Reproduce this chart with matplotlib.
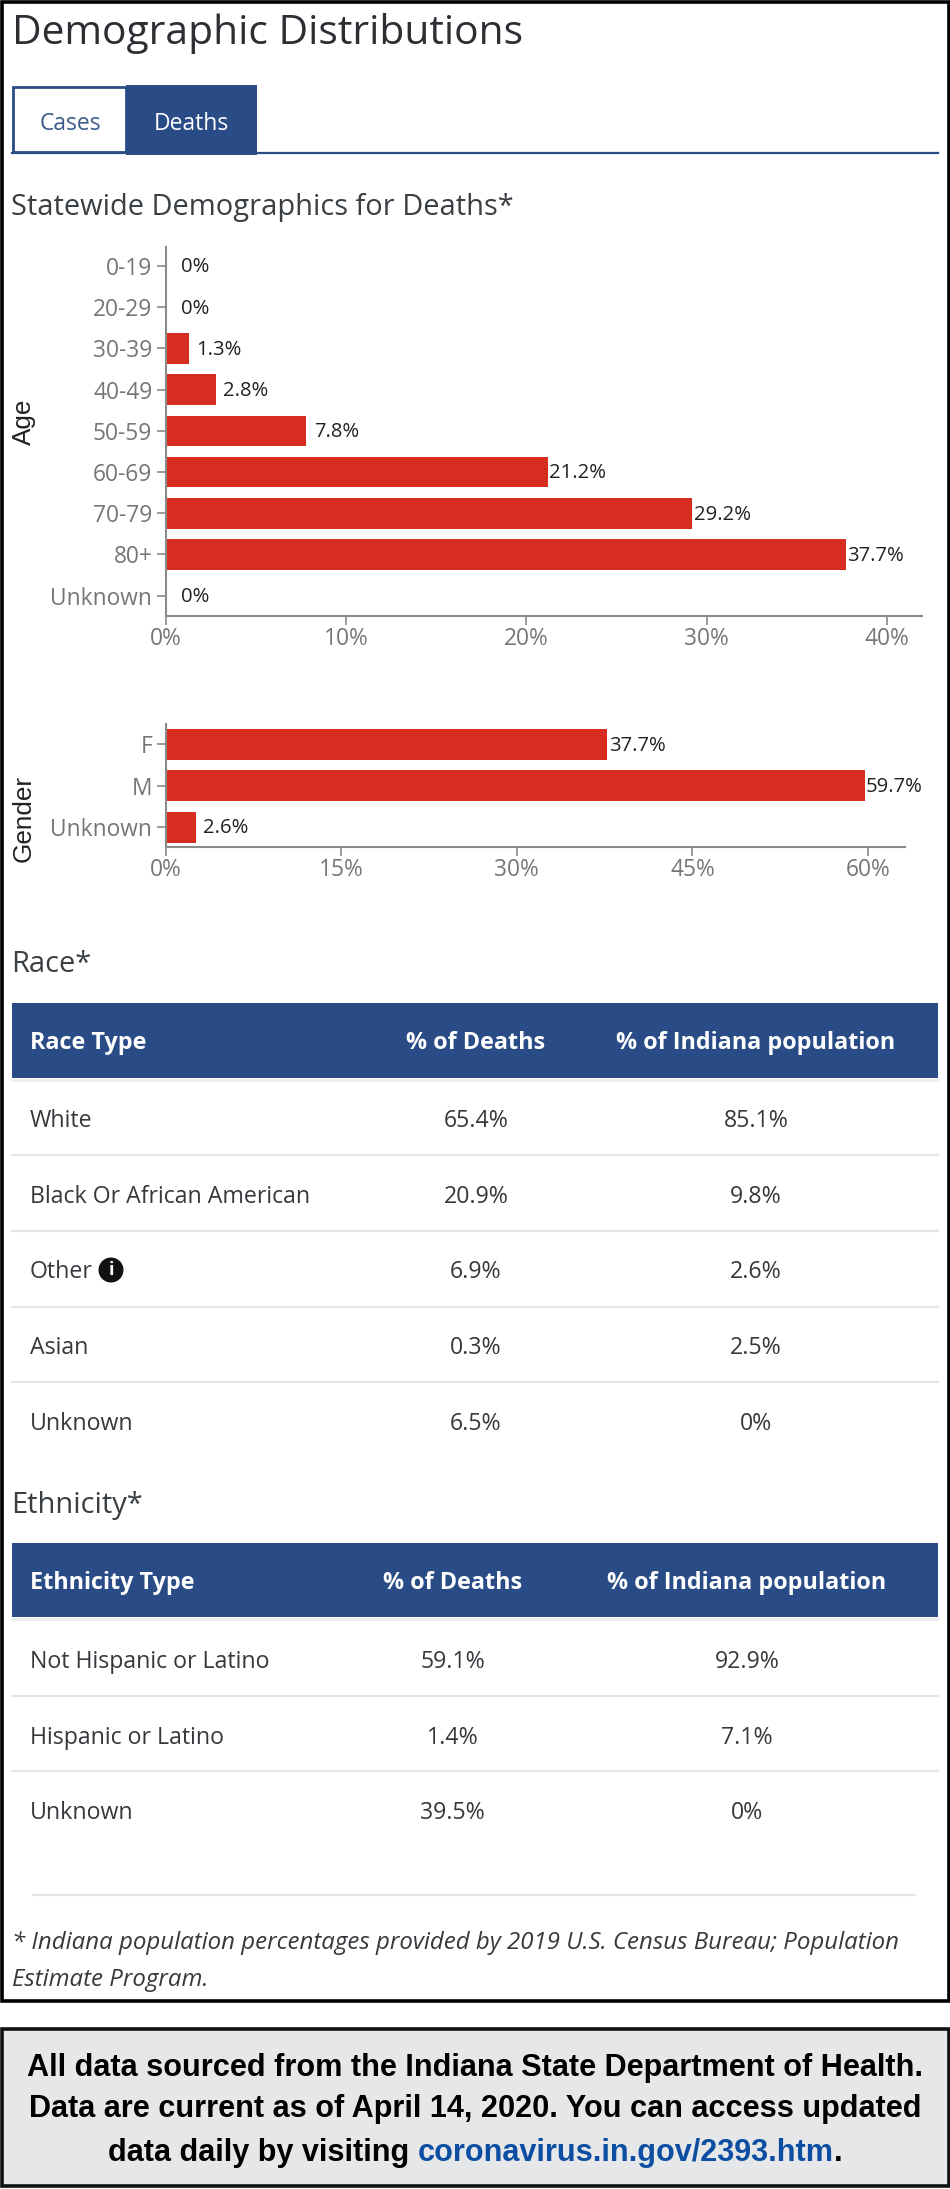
import matplotlib
matplotlib.use('Agg')
import matplotlib.pyplot as plt
from matplotlib.patches import Rectangle, Circle

W, H = 950, 2189
BLUE = '#2a4c86'
RED = '#d62d20'
GREY_AX = '#8a8a8a'
GREY_TXT = '#767676'
DARK = '#2b2f33'
RULE = '#e4e5e7'

# data
age_groups = ['0-19', '20-29', '30-39', '40-49', '50-59', '60-69', '70-79', '80+', 'Unknown']
age_values = [0, 0, 1.3, 2.8, 7.8, 21.2, 29.2, 37.7, 0]
age_ticks = [0, 10, 20, 30, 40]

gender_groups = ['F', 'M', 'Unknown']
gender_values = [37.7, 59.7, 2.6]
gender_ticks = [0, 15, 30, 45, 60]

race_types = ['White', 'Black Or African American', 'Other', 'Asian', 'Unknown']
race_deaths = ['65.4%', '20.9%', '6.9%', '0.3%', '6.5%']
race_pop = ['85.1%', '9.8%', '2.6%', '2.5%', '0%']

eth_types = ['Not Hispanic or Latino', 'Hispanic or Latino', 'Unknown']
eth_deaths = ['59.1%', '1.4%', '39.5%']
eth_pop = ['92.9%', '7.1%', '0%']

plt.rcParams['font.family'] = ['Open Sans', 'DejaVu Sans']

fig = plt.figure(figsize=(W / 100, H / 100), dpi=100, facecolor='white')

# page layer in pixel coordinates
bg = fig.add_axes([0, 0, 1, 1])
bg.set_xlim(0, W)
bg.set_ylim(H, 0)
bg.axis('off')


def px(x0, y0, x1, y1):
    return [x0 / W, 1 - y1 / H, (x1 - x0) / W, (y1 - y0) / H]


def hbar_chart(cats, vals, ticks, box, xmax, y0, step, bar_h, label, label_y):
    ax = fig.add_axes(px(*box))
    ax.patch.set_alpha(0)
    ax.barh(range(len(cats)), vals, height=bar_h / step, color=RED)
    ax.set_xlim(0, xmax)
    ax.set_ylim((box[3] - y0) / step, (box[1] - y0) / step)
    ax.set_yticks(range(len(cats)), cats)
    ax.set_xticks(ticks, [f'{t}%' for t in ticks])
    ax.tick_params(axis='both', length=6.5, width=1.2, color=GREY_AX, labelcolor=GREY_TXT,
                   labelsize=16.4, pad=3)
    ax.tick_params(axis='x', pad=1.5)
    for s in ['top', 'right']:
        ax.spines[s].set_visible(False)
    for s in ['left', 'bottom']:
        ax.spines[s].set_color(GREY_AX)
        ax.spines[s].set_linewidth(1.5)
    # value label centred 30px past the end of the bar
    for i, v in enumerate(vals):
        ax.annotate(f'{v:g}%', (v, i), xytext=(21.6, -1), textcoords='offset points',
                    ha='center', va='center', fontsize=14.6, color='#222222')
    bg.text(24, label_y, label, rotation=90, ha='center', va='center', fontsize=18.8,
            family='Liberation Sans', color='#222222')
    return ax


# frames
bg.add_patch(Rectangle((1.5, 1.5), W - 3, 2001 - 1.5, fc='white', ec='black', lw=2.6))
bg.add_patch(Rectangle((1.5, 2029), W - 3, 157, fc='#e6e7e9', ec='#111111', lw=2.6))

# heading and tabs
bg.text(12, 33, 'Demographic Distributions', fontsize=29.3, color=DARK, va='center')
bg.plot([12, 938], [152.5, 152.5], color=BLUE, lw=1.6)
bg.add_patch(Rectangle((13, 87), 113, 65, fc='white', ec=BLUE, lw=2))
bg.add_patch(Rectangle((126, 85), 131, 70, fc=BLUE, ec='none', zorder=3))
bg.text(70, 123.5, 'Cases', fontsize=16.5, color='#3d5a8a', ha='center', va='center')
bg.text(191, 123.5, 'Deaths', fontsize=16.5, color='white', ha='center', va='center', zorder=4)
bg.text(11, 208, 'Statewide Demographics for Deaths*', fontsize=20.9, color='#3a3f44', va='center')

# charts
hbar_chart(age_groups, age_values, age_ticks, (165.5, 246.5, 922, 615.5), 41.93,
           266, 41.2, 30.6, 'Age', 422)
hbar_chart(gender_groups, gender_values, gender_ticks, (165.5, 724, 905, 847), 63.15,
           744.3, 41.4, 31, 'Gender', 818.6)


def table(title, title_y, head_y0, head_y1, cols, head, rows, row_ys, rule_ys):
    bg.text(11, title_y, title, fontsize=20.9, color='#3a3f44', va='center')
    bg.add_patch(Rectangle((12, head_y0), 926, head_y1 - head_y0, fc=BLUE, ec='none'))
    bg.plot([12, 938], [head_y1 + 2, head_y1 + 2], color='#eceef0', lw=2)
    head_mid = (head_y0 + head_y1) / 2 + 3
    bg.text(30, head_mid, head[0], fontsize=16.8, color='white', weight='bold', va='center')
    bg.text(cols[0], head_mid, head[1], fontsize=16.8, color='white', weight='bold', va='center', ha='center')
    bg.text(cols[1], head_mid, head[2], fontsize=16.8, color='white', weight='bold', va='center', ha='center')
    for y, (name, d, p) in zip(row_ys, zip(*rows)):
        bg.text(30, y, name, fontsize=16.7, color='#35393d', va='center')
        bg.text(cols[0], y, d, fontsize=16.7, color='#35393d', va='center', ha='center')
        bg.text(cols[1], y, p, fontsize=16.7, color='#35393d', va='center', ha='center')
    for y in rule_ys:
        bg.plot([12, 938], [y, y], color=RULE, lw=1.5)


table('Race*', 964, 1002.5, 1077.5, (476, 756), ('Race Type', '% of Deaths', '% of Indiana population'),
      (race_types, race_deaths, race_pop), [1121, 1197, 1272.5, 1348, 1424], [1155, 1231, 1306.7, 1382])
table('Ethnicity*', 1505, 1543, 1617, (452.7, 747), ('Ethnicity Type', '% of Deaths', '% of Indiana population'),
      (eth_types, eth_deaths, eth_pop), [1661.5, 1737.5, 1813], [1696, 1771])

# info icon next to Other
bg.add_patch(Circle((111, 1270), 12.5, fc='#111111', ec='none'))
bg.text(111, 1270, 'i', fontsize=13, color='white', weight='bold', ha='center', va='center')

# footnote
bg.plot([33, 915], [1895, 1895], color=RULE, lw=1.5)
bg.text(12, 1943, '* Indiana population percentages provided by 2019 U.S. Census Bureau; Population',
        fontsize=17.25, style='italic', color='#35393d', va='center')
bg.text(12, 1980, 'Estimate Program.', fontsize=17.25, style='italic', color='#35393d', va='center')

# source box
foot = dict(fontsize=22.1, weight='bold', family='Liberation Sans', va='center', color='black')
bg.text(475, 2068, 'All data sourced from the Indiana State Department of Health.', ha='center', **foot)
bg.text(475, 2109, 'Data are current as of April 14, 2020. You can access updated', ha='center', **foot)
bg.text(108, 2153, 'data daily by visiting', ha='left', **foot)
bg.text(418, 2153, 'coronavirus.in.gov/2393.htm', ha='left', **{**foot, 'color': '#0b4ea2'})
bg.text(834, 2153, '.', ha='left', **foot)

fig.savefig('out.png', dpi=100, facecolor='white')
